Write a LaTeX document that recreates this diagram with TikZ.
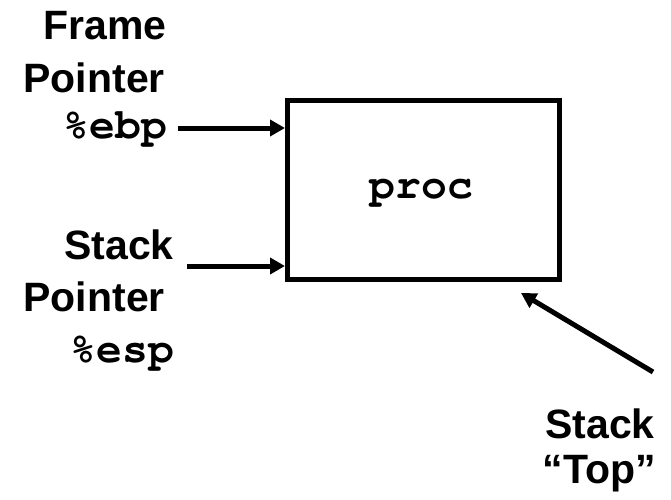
\documentclass[tikz,border=0pt]{standalone}
\usepackage{fontspec}
\setmainfont{Liberation Sans}
\setmonofont{TeX Gyre Cursor}
\usetikzlibrary{arrows.meta,calc}

\begin{document}
\begin{tikzpicture}[x=1pt,y=-1pt,
  lab/.style={font=\fontsize{41}{41}\selectfont\bfseries, inner sep=0pt, anchor=base east},
  reg/.style={font=\fontsize{43}{43}\selectfont\ttfamily\bfseries, inner sep=0pt, anchor=base east},
  ptr/.style={line width=5pt, -{Triangle[length=15pt,width=16pt]}},
]
\useasboundingbox (0,0) rectangle (671,499);

% the procedure's frame
\node[draw, line width=5pt, minimum width=272pt, minimum height=178.5pt, inner sep=0pt] (proc) at (423.5,189.75) {};
\node[reg, anchor=base] (proctext) at (421.5,198) {proc};

% frame pointer
\node[lab] (fp1) at (167,39) {Frame};
\node[lab] (fp2) at (165,92) {Pointer};
\node[reg] (ebp) at (167,138) {\%ebp};

% stack pointer
\node[lab] (sp1) at (174,259) {Stack};
\node[lab] (sp2) at (165,311) {Pointer};
\node[reg] (esp) at (174,362) {\%esp};

% stack top
\node[lab] (st1) at (655,438) {Stack};
\node[lab] (st2) at (656,483) {``Top''};

\coordinate (ebptail) at (178,128);
\coordinate (esptail) at (187,266);
\coordinate (toptail) at (653,372);
\coordinate (tophead) at (521,293);

\draw[ptr] (ebptail) -- (proc.west |- ebptail);
\draw[ptr] (esptail) -- (proc.west |- esptail);
\draw[ptr] (toptail) -- (tophead);
\end{tikzpicture}
\end{document}
